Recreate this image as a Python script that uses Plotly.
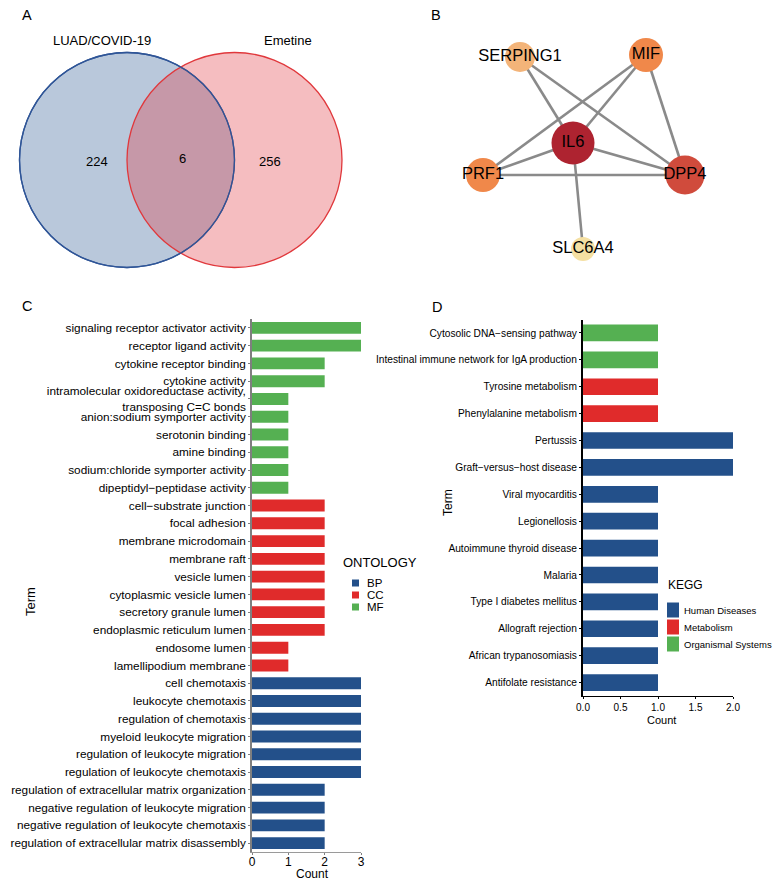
import plotly.graph_objects as go

# ---------------- data ----------------
venn_sets = ["LUAD/COVID-19", "Emetine"]
venn_counts = [224, 6, 256]  # left only, shared, right only

net_nodes = ["SERPING1", "MIF", "IL6", "PRF1", "DPP4", "SLC6A4"]
net_edges = [("SERPING1", "IL6"), ("SERPING1", "DPP4"), ("MIF", "PRF1"), ("MIF", "IL6"),
             ("MIF", "DPP4"), ("IL6", "PRF1"), ("IL6", "DPP4"), ("PRF1", "DPP4"), ("IL6", "SLC6A4")]

go_terms = [
    "signaling receptor activator activity", "receptor ligand activity", "cytokine receptor binding",
    "cytokine activity", "intramolecular oxidoreductase activity,<br>transposing C=C bonds",
    "anion:sodium symporter activity", "serotonin binding", "amine binding",
    "sodium:chloride symporter activity", "dipeptidyl\u2212peptidase activity",
    "cell\u2212substrate junction", "focal adhesion", "membrane microdomain", "membrane raft",
    "vesicle lumen", "cytoplasmic vesicle lumen", "secretory granule lumen",
    "endoplasmic reticulum lumen", "endosome lumen", "lamellipodium membrane",
    "cell chemotaxis", "leukocyte chemotaxis", "regulation of chemotaxis",
    "myeloid leukocyte migration", "regulation of leukocyte migration",
    "regulation of leukocyte chemotaxis", "regulation of extracellular matrix organization",
    "negative regulation of leukocyte migration", "negative regulation of leukocyte chemotaxis",
    "regulation of extracellular matrix disassembly"]
go_counts = [3, 3, 2, 2, 1, 1, 1, 1, 1, 1,
             2, 2, 2, 2, 2, 2, 2, 2, 1, 1,
             3, 3, 3, 3, 3, 3, 2, 2, 2, 2]
go_ontology = ["MF"] * 10 + ["CC"] * 10 + ["BP"] * 10
go_levels = ["BP", "CC", "MF"]

kegg_terms = [
    "Cytosolic DNA\u2212sensing pathway", "Intestinal immune network for IgA production",
    "Tyrosine metabolism", "Phenylalanine metabolism", "Pertussis",
    "Graft\u2212versus\u2212host disease", "Viral myocarditis", "Legionellosis",
    "Autoimmune thyroid disease", "Malaria", "Type I diabetes mellitus",
    "Allograft rejection", "African trypanosomiasis", "Antifolate resistance"]
kegg_counts = [1, 1, 1, 1, 2, 2, 1, 1, 1, 1, 1, 1, 1, 1]
kegg_class = ["Organismal Systems"] * 2 + ["Metabolism"] * 2 + ["Human Diseases"] * 10
kegg_levels = ["Human Diseases", "Metabolism", "Organismal Systems"]

# ---------------- styles / layout ----------------
OFF = 8  # page body margin
W, H = 780 - OFF, 878 - OFF
FONT = "Liberation Sans, Arial, sans-serif"
BLUE, RED, GREEN = "#23508A", "#E02B2B", "#55B052"
go_colors = {"BP": BLUE, "CC": RED, "MF": GREEN}
kegg_colors = {"Human Diseases": BLUE, "Metabolism": RED, "Organismal Systems": GREEN}

node_pos = {"SERPING1": (520, 57), "MIF": (646, 55), "IL6": (573, 143),
            "PRF1": (483, 175), "DPP4": (685, 175), "SLC6A4": (583, 249)}
deg_style = {5: ("#AE2330", 43), 4: ("#D04B3C", 39), 3: ("#F0884A", 34),
             2: ("#F3B479", 30), 1: ("#F5E0A3", 24)}


def px(x):
    return (x - OFF) / W


def py(y):
    return 1 - (y - OFF) / H


def ann(text, x, y, size, xanchor="center", angle=0):
    return dict(text=text, x=px(x), y=py(y), xref="paper", yref="paper", showarrow=False,
                xanchor=xanchor, yanchor="middle", textangle=angle,
                font=dict(family=FONT, size=size, color="black"))


fig = go.Figure()

# ---- Panel C bars ----
for lev in go_levels:
    idx = [i for i, o in enumerate(go_ontology) if o == lev]
    fig.add_trace(go.Bar(
        x=[go_counts[i] for i in idx], y=[go_terms[i] for i in idx],
        orientation="h", marker=dict(color=go_colors[lev], line=dict(width=0)),
        width=0.67, showlegend=False, xaxis="x", yaxis="y", name=lev))

# ---- Panel D bars ----
for lev in kegg_levels:
    idx = [i for i, o in enumerate(kegg_class) if o == lev]
    fig.add_trace(go.Bar(
        x=[kegg_counts[i] for i in idx], y=[kegg_terms[i] for i in idx],
        orientation="h", marker=dict(color=kegg_colors[lev], line=dict(width=0)),
        width=0.62, showlegend=False, xaxis="x2", yaxis="y2", name=lev))

# ---- Panel B network ----
degree = {n: 0 for n in net_nodes}
for a, b in net_edges:
    degree[a] += 1
    degree[b] += 1
ex, ey = [], []
for a, b in net_edges:
    ex += [node_pos[a][0], node_pos[b][0], None]
    ey += [node_pos[a][1], node_pos[b][1], None]
fig.add_trace(go.Scatter(x=ex, y=ey, mode="lines", line=dict(color="#8A8A8A", width=2.6),
                         hoverinfo="skip", showlegend=False, xaxis="x4", yaxis="y4"))
fig.add_trace(go.Scatter(
    x=[node_pos[n][0] for n in net_nodes], y=[node_pos[n][1] for n in net_nodes],
    mode="markers+text", text=net_nodes, textposition="middle center",
    textfont=dict(family=FONT, size=16.5, color="black"),
    marker=dict(color=[deg_style[degree[n]][0] for n in net_nodes], opacity=1,
                size=[deg_style[degree[n]][1] for n in net_nodes], line=dict(width=0)),
    showlegend=False, xaxis="x4", yaxis="y4"))

# dummy trace for venn axis
fig.add_trace(go.Scatter(x=[None], y=[None], xaxis="x3", yaxis="y3", showlegend=False))

shapes = []
annotations = []

# ---- Panel A venn ----
R = 107.5
venn_centers = [(127, 160), (234.5, 160)]
shapes.append(dict(type="circle", xref="x3", yref="y3",
                   x0=venn_centers[0][0] - R, x1=venn_centers[0][0] + R,
                   y0=venn_centers[0][1] - R, y1=venn_centers[0][1] + R,
                   fillcolor="#B9C8DB", line=dict(color="#2F5597", width=1.3), layer="below"))
shapes.append(dict(type="circle", xref="x3", yref="y3",
                   x0=venn_centers[1][0] - R, x1=venn_centers[1][0] + R,
                   y0=venn_centers[1][1] - R, y1=venn_centers[1][1] + R,
                   fillcolor="rgba(225,54,64,0.33)", line=dict(color="#E0383C", width=1.3),
                   layer="below"))
shapes.append(dict(type="circle", xref="x3", yref="y3",
                   x0=venn_centers[0][0] - R, x1=venn_centers[0][0] + R,
                   y0=venn_centers[0][1] - R, y1=venn_centers[0][1] + R,
                   fillcolor="rgba(0,0,0,0)", line=dict(color="#2F5597", width=1.3)))
for lbl, (x, y) in zip(venn_sets, [(102, 40), (288, 40)]):
    annotations.append(ann(lbl, x, y, 13))
for c, (x, y) in zip(venn_counts, [(97, 161), (182, 159), (270, 161)]):
    annotations.append(ann(str(c), x, y, 13))

# ---- panel letters ----
for lbl, (x, y) in zip("ABCD", [(27, 15), (436, 15), (27, 306), (437, 307)]):
    annotations.append(ann(lbl, x, y, 14.5))

# ---- axis titles ----
annotations.append(ann("Term", 30, 602, 13, angle=-90))
annotations.append(ann("Count", 312, 874, 12))
annotations.append(ann("Term", 448, 503, 12, angle=-90))
annotations.append(ann("Count", 661, 720, 11))

# ---- manual legends ----
annotations.append(ann("ONTOLOGY", 341, 562, 13, xanchor="left"))
for i, lev in enumerate(go_levels):
    yc = 583 + i * 12
    shapes.append(dict(type="rect", xref="paper", yref="paper", x0=px(352), x1=px(359),
                       y0=py(yc + 3.5), y1=py(yc - 3.5), fillcolor=go_colors[lev],
                       line=dict(width=0)))
    annotations.append(ann(lev, 365, yc, 11.5, xanchor="left"))

annotations.append(ann("KEGG", 666, 585, 12, xanchor="left"))
for i, lev in enumerate(kegg_levels):
    yc = 610 + i * 17
    shapes.append(dict(type="rect", xref="paper", yref="paper", x0=px(667), x1=px(679),
                       y0=py(yc + 7.5), y1=py(yc - 7.5), fillcolor=kegg_colors[lev],
                       line=dict(width=0)))
    annotations.append(ann(lev, 682, yc, 9.5, xanchor="left"))

fig.update_layout(
    width=W, height=H, margin=dict(l=0, r=0, t=0, b=0),
    paper_bgcolor="white", plot_bgcolor="white",
    font=dict(family=FONT, color="black"),
    bargap=0.3, barmode="overlay",
    shapes=shapes, annotations=annotations,
    xaxis=dict(domain=[px(252), px(361)], range=[0, 3], tickvals=[0, 1, 2, 3],
               showgrid=False, zeroline=False, showline=True, linecolor="#9A9A9A",
               linewidth=1, ticks="outside", ticklen=2, tickcolor="#7F7F7F",
               ticklabelstandoff=-3,
               tickfont=dict(family=FONT, size=12, color="black"), anchor="y",
               automargin=False),
    yaxis=dict(domain=[py(852), py(319)], type="category", categoryorder="array",
               categoryarray=go_terms, autorange="reversed", showgrid=False, zeroline=False,
               showline=True, linecolor="#7F7F7F", linewidth=1.5, ticks="outside",
               ticklen=2, tickcolor="#7F7F7F", tickfont=dict(family=FONT, size=11.8, color="black"),
               anchor="x", automargin=False),
    xaxis2=dict(domain=[px(583), px(733)], range=[0, 2], tickvals=[0, 0.5, 1, 1.5, 2],
                tickformat=".1f", showgrid=False, zeroline=False, showline=True,
                linecolor="black", linewidth=1.2, ticks="outside", ticklen=2,
                tickcolor="black", tickfont=dict(family=FONT, size=10, color="black"),
                anchor="y2", automargin=False),
    yaxis2=dict(domain=[py(696), py(319.5)], type="category", categoryorder="array",
                categoryarray=kegg_terms, autorange="reversed", showgrid=False, zeroline=False,
                showline=True, linecolor="black", linewidth=2, ticks="outside", ticklen=2,
                tickcolor="black", tickfont=dict(family=FONT, size=10.2, color="black"),
                anchor="x2", automargin=False),
    xaxis3=dict(domain=[px(8), px(390)], range=[8, 390], visible=False, anchor="y3"),
    yaxis3=dict(domain=[py(290), py(8)], range=[290, 8], visible=False, anchor="x3"),
    xaxis4=dict(domain=[px(390), px(780)], range=[390, 780], visible=False, anchor="y4"),
    yaxis4=dict(domain=[py(290), py(8)], range=[290, 8], visible=False, anchor="x4"),
)

fig.write_html("out.html")
